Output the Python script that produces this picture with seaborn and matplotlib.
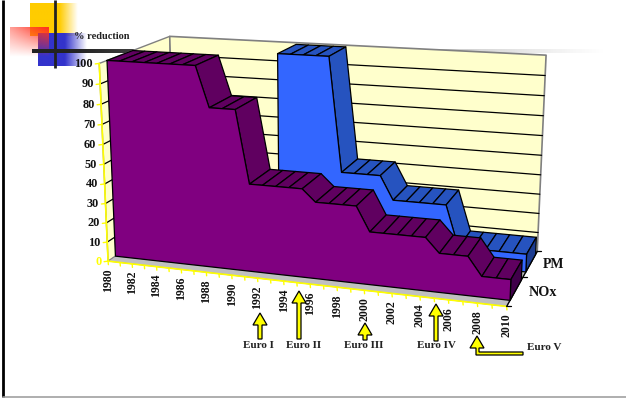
import numpy as np
import pandas as pd
import matplotlib
matplotlib.use("Agg")
import matplotlib.pyplot as plt
from matplotlib.colors import to_rgb
from matplotlib.patches import Polygon
import seaborn as sns

# ---- chart data -------------------------------------------------------------
years = list(range(1980, 2011))
nox_values = [100] * 8 + [80] * 3 + [44] * 5 + [38] * 4 + [26] * 5 + [19] * 3 + [10] * 3
pm_values = [np.nan] * 11 + [100] * 5 + [42] * 4 + [30] * 5 + [9] * 6
value_ticks = list(range(0, 101, 10))
year_labels = list(range(1980, 2011, 2))
series_names = ["NOx", "PM"]
stages = ["Euro I", "Euro II", "Euro III", "Euro IV", "Euro V"]

# ---- colours ----------------------------------------------------------------
WALL = "#FFFFCC"
EDGE = "#808080"
FLOOR = "#C0C0C0"
AXIS_YELLOW = "#FFFF00"
NOX_FRONT, NOX_TOP, NOX_END = "#800080", "#600060", "#40004A"
PM_FRONT, PM_TOP, PM_END = "#3366FF", "#2653BF", "#1C3C90"

sns.set_theme(style="white")
plt.rcParams["font.family"] = ["Liberation Serif", "DejaVu Serif"]
plt.rcParams["font.weight"] = "bold"

fig = plt.figure(figsize=(6.26, 3.98), dpi=100, facecolor="white")
ax = fig.add_axes([0, 0, 1, 1])
ax.set_xlim(0, 626)
ax.set_ylim(398, 0)
ax.axis("off")

# ---- perspective camera of the 3-D box --------------------------------------
# Box coordinates (t, v, z) each run 0..1: years, value, depth towards the back.
box_corners = np.array([
    [0, 0, 0], [0, 1, 0], [0, 1, 1], [1, 1, 1], [1, 0, 1], [1, 0, 0],
], float)
screen_corners = np.array([
    [108, 261], [99, 64], [170, 36], [546, 55], [537, 252], [507, 306],
], float)


def fit_camera(world, image):
    rows, rhs = [], []
    for (x, y, z), (u, v) in zip(world, image):
        rows.append([x, y, z, 1, 0, 0, 0, 0, -u * x, -u * y, -u * z])
        rows.append([0, 0, 0, 0, x, y, z, 1, -v * x, -v * y, -v * z])
        rhs += [u, v]
    p = np.linalg.lstsq(np.array(rows), np.array(rhs), rcond=None)[0]
    return np.append(p, 1.0).reshape(3, 4)


CAMERA = fit_camera(box_corners, screen_corners)


def project(year, value, depth):
    t = (np.asarray(year, float) - years[0]) / (years[-1] - years[0])
    v = np.asarray(value, float) / 100.0
    z = np.broadcast_to(depth, t.shape if t.shape else v.shape).astype(float)
    pts = np.stack([t * np.ones_like(v), v * np.ones_like(t), z, np.ones_like(z)], axis=-1)
    q = pts @ CAMERA.T
    return q[..., :2] / q[..., 2:3]


def face(points, color, edge="black", lw=0.9, z=3):
    ax.add_patch(Polygon(points, closed=True, facecolor=color, edgecolor=edge,
                         linewidth=lw, joinstyle="round", zorder=z))


def draw_ribbon(values, z_front, z_back, front, top, end, z):
    vals = np.array(values, float)
    keep = ~np.isnan(vals)
    yrs = np.array(years, float)[keep]
    vals = vals[keep]
    # upper surface, one strip per year
    for i in range(len(yrs) - 1):
        a = project(yrs[i], vals[i], z_front)
        b = project(yrs[i + 1], vals[i + 1], z_front)
        c = project(yrs[i + 1], vals[i + 1], z_back)
        d = project(yrs[i], vals[i], z_back)
        face([a, b, c, d], top, z=z)
    # closing end at the last year
    face([project(yrs[-1], vals[-1], z_front), project(yrs[-1], 0, z_front),
          project(yrs[-1], 0, z_back), project(yrs[-1], vals[-1], z_back)], end, z=z)
    # front silhouette, outlined through seaborn
    top_edge = np.array([project(y, v, z_front) for y, v in zip(yrs, vals)])
    base = np.array([project(yrs[-1], 0, z_front), project(yrs[0], 0, z_front)])
    outline = np.vstack([top_edge, base])
    face(outline, front, edge="none", lw=0, z=z + 0.1)
    frame = pd.DataFrame({"sx": np.append(outline[:, 0], outline[0, 0]),
                          "sy": np.append(outline[:, 1], outline[0, 1])})
    sns.lineplot(data=frame, x="sx", y="sy", sort=False, estimator=None, color="black",
                 linewidth=0.9, ax=ax, zorder=z + 0.2, legend=False)


def gradient_square(x0, x1, y0, y1, color, z, solid=0.55, peak=1.0):
    ramp = np.clip((1 - np.linspace(0, 1, 128)) / (1 - solid), 0, 1) * peak
    rgba = np.zeros((1, 128, 4))
    rgba[..., :3] = to_rgb(color)
    rgba[..., 3] = ramp
    ax.imshow(rgba, extent=(x0, x1, y1, y0), aspect="auto", zorder=z, interpolation="bilinear")


# ---- slide furniture --------------------------------------------------------
gradient_square(30, 78, 3, 36, "#FFCC00", 0.1, solid=0.62)
gradient_square(38, 87, 33, 66, "#3333CC", 0.2, solid=0.55)

# the pink square fades downwards and towards its left side
fy = np.linspace(1, 0, 64)[:, None]
fx = np.linspace(0.45, 1, 64)[None, :]
pink = np.zeros((64, 64, 4))
pink[..., :3] = to_rgb("#FF3322")
pink[..., 3] = np.clip(fy * fx * 1.05, 0, 1)
ax.imshow(pink, extent=(10, 49, 57, 27), aspect="auto", zorder=0.3, interpolation="bilinear")

ax.plot([54.7, 54.7], [0, 68], color="#222222", lw=2.0, zorder=0.5, solid_capstyle="butt")
frac = np.linspace(0, 1, 256)
line = np.zeros((1, 256, 4))
line[..., :3] = to_rgb("#222222")
line[..., 3] = np.clip(1.1 * (1 - frac) ** 1.2, 0, 1)
ax.imshow(line, extent=(32, 610, 53.2, 50), aspect="auto", zorder=0.5)
ax.plot([3, 3], [0, 397], color="black", lw=2.0, zorder=0.5, solid_capstyle="butt")
ax.plot([3, 626], [397, 397], color="#999999", lw=1.1, zorder=0.5)
ax.set_xlim(0, 626)
ax.set_ylim(398, 0)

# ---- box walls, floor, gridlines ---------------------------------------------
y0, y1 = years[0], years[-1]
face([project(y0, 0, 0), project(y0, 100, 0), project(y0, 100, 1), project(y0, 0, 1)],
     WALL, edge=EDGE, lw=1.0, z=1)
face([project(y0, 0, 1), project(y0, 100, 1), project(y1, 100, 1), project(y1, 0, 1)],
     WALL, edge=EDGE, lw=1.2, z=1)
face([project(y0, 0, 0), project(y1, 0, 0), project(y1, 0, 1), project(y0, 0, 1)],
     FLOOR, edge=EDGE, lw=0.6, z=1.1)

for tick in value_ticks[1:-1]:
    a, b, c = project(y0, tick, 0), project(y0, tick, 1), project(y1, tick, 1)
    ax.plot([a[0], b[0], c[0]], [a[1], b[1], c[1]], color="black", lw=0.9, zorder=1.2)

# ---- axes --------------------------------------------------------------------
a, b = project(y0, 0, 0), project(y0, 100, 0)
ax.plot([a[0], b[0]], [a[1], b[1]], color=AXIS_YELLOW, lw=1.2, zorder=1.3)
for tick in value_ticks:
    p = project(y0, tick, 0)
    ax.plot([p[0] - 4, p[0]], [p[1] + 0.5, p[1]], color=AXIS_YELLOW, lw=1.0, zorder=1.3)
    ax.text(p[0] - 6.5, p[1] + 0.5, str(tick), ha="right", va="center", fontsize=8.8,
            color=AXIS_YELLOW if tick == 0 else "#111111", zorder=6)

a, b = project(y0, 0, 0), project(y1, 0, 0)
ax.plot([a[0], b[0]], [a[1], b[1]], color=AXIS_YELLOW, lw=1.2, zorder=1.3)
for yr in years:
    p = project(yr, 0, 0)
    ax.plot([p[0], p[0] + 0.3], [p[1], p[1] + 3.5], color=AXIS_YELLOW, lw=1.0, zorder=1.3)
for yr in year_labels:
    p = project(yr, 0, 0)
    ax.text(p[0], p[1] + 7, str(yr), rotation=90, ha="center", va="top", fontsize=8.5,
            color="#111111", zorder=6)

a, b = project(y1, 0, 0), project(y1, 0, 1)
ax.plot([a[0], b[0]], [a[1], b[1]], color="black", lw=1.0, zorder=1.3)
for dz in (0, 0.5, 1):
    p = project(y1, 0, dz)
    ax.plot([p[0], p[0] + 4], [p[1], p[1]], color="black", lw=0.9, zorder=1.3)
ax.text(528.5, 292.5, series_names[0], ha="left", va="center", fontsize=10.2, color="#111111", zorder=6)
ax.text(543, 265, series_names[1], ha="left", va="center", fontsize=10, color="#111111", zorder=6)
ax.text(73.5, 36.5, "% reduction", ha="left", va="center", fontsize=7.5, color="#222222", zorder=6)

# ---- data ribbons, back to front ---------------------------------------------
draw_ribbon(pm_values, 0.60, 0.94, PM_FRONT, PM_TOP, PM_END, 2)
draw_ribbon(nox_values, 0.10, 0.45, NOX_FRONT, NOX_TOP, NOX_END, 3)


# ---- regulation stage arrows -------------------------------------------------
def stage_arrow(x, tip, bottom, half_head=7, half_shaft=2, head=12):
    pts = [(x, tip), (x + half_head, tip + head), (x + half_shaft, tip + head),
           (x + half_shaft, bottom), (x - half_shaft, bottom), (x - half_shaft, tip + head),
           (x - half_head, tip + head)]
    ax.add_patch(Polygon(pts, closed=True, facecolor=AXIS_YELLOW, edgecolor="black",
                         linewidth=0.9, zorder=7))


stage_arrow(260, 313, 339)
stage_arrow(299, 291, 339)
stage_arrow(365, 323, 340)
stage_arrow(436, 304, 341)
ax.add_patch(Polygon([(477, 336), (484, 348), (479, 348), (479, 352), (523, 352), (523, 355),
                      (476, 355), (476, 348), (470, 348)], closed=True,
                     facecolor=AXIS_YELLOW, edgecolor="black", linewidth=0.9, zorder=7))

stage_pos = [(258, 346, "center"), (304, 346, "center"), (364, 346, "center"),
             (436, 346, "center"), (527, 348, "left")]
for name, (x, y, ha) in zip(stages, stage_pos):
    ax.text(x, y, name, ha=ha, va="center", fontsize=8, color="#222222", zorder=8)

ax.set_xlabel("")
ax.set_ylabel("")
ax.set_xlim(0, 626)
ax.set_ylim(398, 0)
fig.savefig("out.png", dpi=100)
